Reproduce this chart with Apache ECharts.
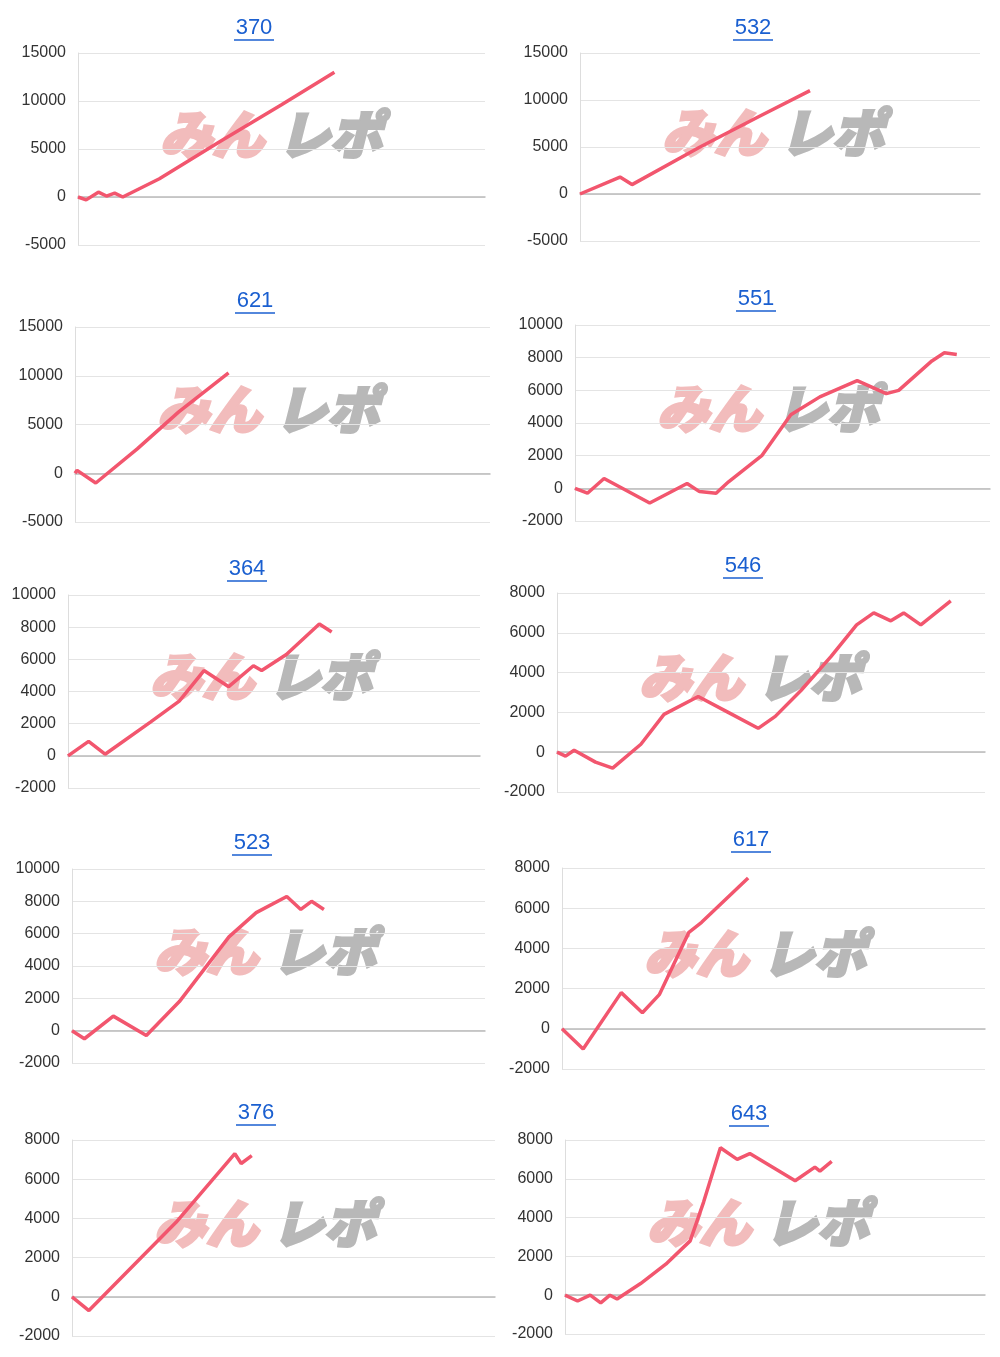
<!DOCTYPE html>
<html><head><meta charset="utf-8">
<script src="https://cdn.jsdelivr.net/npm/echarts@6/dist/echarts.min.js"></script>
<style>html,body{margin:0;background:#fff}#c{width:1000px;height:1357px}</style>
</head><body><div id="c"></div>
<script>
// chart titles
var titles = ['370','532','621','551','364','546','523','617','376','643'];
// x positions (% of run) and values for each chart
var xs370 = [0,2,5,7,9,11,20,35,50,63];
var ys370 = [0,-300,500,100,400,0,1900,5800,9600,13000];
var xs532 = [0,10,13,30,45,57.5];
var ys532 = [0,1800,1000,5000,8300,11000];
var xs621 = [0,0.5,5,15,25,37];
var ys621 = [0,300,-1000,2500,6300,10300];
var xs551 = [0,3,7,18,27,30,34,37,45,52,59,68,75,78,86,89,92];
var ys551 = [0,-300,600,-900,300,-200,-300,400,2000,4500,5600,6600,5800,6000,7800,8300,8200];
var xs364 = [0,5,9,20,27,33,39,45,47,53,61,64];
var ys364 = [0,900,100,2100,3400,5300,4300,5600,5300,6300,8200,7700];
var xs546 = [0,2,4,9,13,19.6,25,33,40,47,51,57,64,70,74,78,81,85,92];
var ys546 = [0,-200,100,-500,-800,400,1900,2800,2000,1200,1800,3100,4800,6400,7000,6600,7000,6400,7600];
var xs523 = [0,3,10,18,26,38,44.6,52,55.4,58,61];
var ys523 = [0,-500,900,-300,1800,5800,7300,8300,7500,8000,7500];
var xs617 = [0,5,14,19,23,30,33,44];
var ys617 = [0,-1000,1800,800,1700,4800,5300,7500];
var xs376 = [0,4,24.6,38.5,40,42.5];
var ys376 = [0,-700,3800,7300,6800,7200];
var xs643 = [0,3,6,8.5,10.7,12.4,18,24,29.8,33,37,41,44,54.8,59.5,60.7,63.5];
var ys643 = [0,-300,0,-400,0,-200,600,1600,2800,4800,7600,7000,7300,5900,6600,6400,6900];
// y axis ranges: min, max, interval
var yMin = [-5000,-5000,-5000,-2000,-2000,-2000,-2000,-2000,-2000,-2000];
var yMax = [15000,15000,15000,10000,10000,8000,10000,8000,8000,8000];
var yStep = [5000,5000,5000,2000,2000,2000,2000,2000,2000,2000];

var allX = [xs370,xs532,xs621,xs551,xs364,xs546,xs523,xs617,xs376,xs643];
var allY = [ys370,ys532,ys621,ys551,ys364,ys546,ys523,ys617,ys376,ys643];

// layout of each panel [left, right, top, bottom, titleX, titleY]
var boxes = [
  [78,485,53,245,254,28],[580,980,53,241,753,28],
  [75,490,327,522,255,301],[575,990,325,521,756,299],
  [68,480,595,788,247,569],[557,985,593,792,743,566],
  [72,485,869,1063,252,843],[562,985,868,1069,751,840],
  [72,495,1140,1336,256,1113],[565,985,1140,1334,749,1114]
];

var grids=[],xAxes=[],yAxes=[],series=[],graphics=[];
for (var i=0;i<10;i++){
  var b=boxes[i];
  grids.push({left:b[0],top:b[2],width:b[1]-b[0],height:b[3]-b[2]});
  xAxes.push({gridIndex:i,type:'value',min:0,max:100,
    axisLine:{onZero:true,lineStyle:{color:'#bbb',width:1.5}},
    axisTick:{show:false},axisLabel:{show:false},splitLine:{show:false}});
  yAxes.push({gridIndex:i,type:'value',min:yMin[i],max:yMax[i],interval:yStep[i],
    axisLine:{show:true,lineStyle:{color:'#ddd'}},axisTick:{show:false},
    axisLabel:{color:'#333',fontSize:16,fontFamily:'Liberation Sans',margin:12,
      formatter:function(v){return String(v);}},
    splitLine:{lineStyle:{color:'#e4e4e4'}}});
  var d=[];
  for (var k=0;k<allX[i].length;k++) d.push([allX[i][k],allY[i][k]]);
  series.push({type:'line',xAxisIndex:i,yAxisIndex:i,data:d,symbol:'none',
    lineStyle:{color:'#f2566e',width:3.5},z:3});
  var cx=b[4];
  graphics.push({type:'text',x:cx,y:b[5],style:{text:titles[i],fill:'#1a5fd0',
    font:'22px Liberation Sans',align:'center',verticalAlign:'middle'}});
  graphics.push({type:'line',shape:{x1:cx-20,y1:b[5]+12,x2:cx+20,y2:b[5]+12},
    style:{stroke:'#1a5fd0',lineWidth:1.5}});
  var wy=(b[2]+b[3])/2-15;
  graphics.push({type:'text',x:b[0]+82,y:wy,z:-1,style:{text:'みん',fill:'#f2bcbc',
    stroke:'#f2bcbc',lineWidth:3,
    font:'italic 900 52px "Noto Sans CJK JP"',verticalAlign:'middle'}});
  graphics.push({type:'text',x:b[0]+200,y:wy,z:-1,style:{text:'レポ',fill:'#b8b8b8',
    stroke:'#b8b8b8',lineWidth:3,
    font:'italic 900 52px "Noto Sans CJK JP"',verticalAlign:'middle'}});
}

var chart=echarts.init(document.getElementById('c'));
chart.setOption({animation:false,grid:grids,xAxis:xAxes,yAxis:yAxes,series:series,graphic:graphics});
</script></body></html>
